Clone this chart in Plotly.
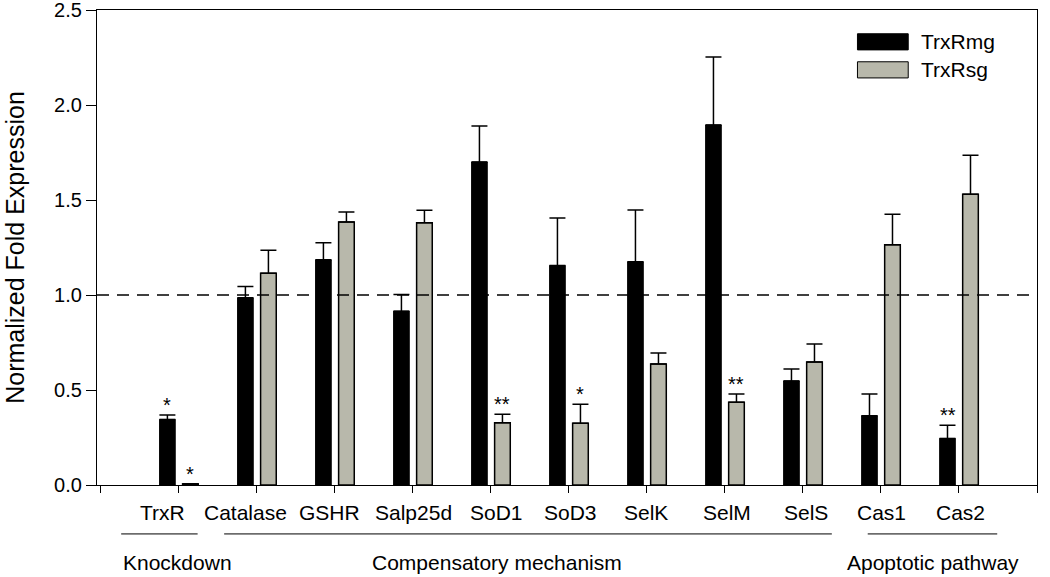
import plotly.graph_objects as go

categories = ["TrxR", "Catalase", "GSHR", "Salp25d", "SoD1", "SoD3", "SelK", "SelM", "SelS", "Cas1", "Cas2"]
positions = list(range(1, len(categories) + 1))

mg_values = [0.345, 0.985, 1.185, 0.915, 1.70, 1.155, 1.175, 1.895, 0.548, 0.365, 0.245]
mg_errors = [0.023, 0.060, 0.090, 0.088, 0.190, 0.250, 0.272, 0.358, 0.062, 0.114, 0.070]
sg_values = [0.006, 1.115, 1.384, 1.380, 0.328, 0.325, 0.637, 0.435, 0.647, 1.265, 1.530]
sg_errors = [0.000, 0.120, 0.053, 0.066, 0.045, 0.100, 0.058, 0.044, 0.095, 0.160, 0.205]

mg_stars = ["*", "", "", "", "", "", "", "", "", "", "**"]
sg_stars = ["*", "", "", "", "**", "*", "", "**", "", "", ""]

# label pixel shifts relative to the category tick (as in the original layout)
label_shift = [-16, -11, -5, 1, 6, 2, -1, 2, 3, 1, 2]

# group name, bracket start, bracket end, label centre (in category units)
groups = [("Knockdown", 0.26, 1.24, 0.98),
          ("Compensatory mechanism", 1.58, 9.37, 5.08),
          ("Apoptotic pathway", 9.83, 11.49, 10.67)]

series_names = ["TrxRmg", "TrxRsg"]
BLACK = "#000000"
GREY = "#b8b8ab"
FONT = "Arial, Liberation Sans, sans-serif"

fig = go.Figure()
fig.add_trace(go.Bar(
    x=positions, y=mg_values, name=series_names[0],
    marker=dict(color=BLACK, line=dict(color="black", width=1)),
    error_y=dict(type="data", symmetric=False, array=mg_errors, arrayminus=[0] * len(mg_errors),
                 color="black", thickness=1.5, width=8),
))
fig.add_trace(go.Bar(
    x=positions, y=sg_values, name=series_names[1],
    marker=dict(color=GREY, line=dict(color="black", width=1.5)),
    error_y=dict(type="data", symmetric=False, array=sg_errors, arrayminus=[0] * len(sg_errors),
                 color="black", thickness=1.5, width=8),
))

annotations = []
offset = 0.147
for i, p in enumerate(positions):
    if mg_stars[i]:
        annotations.append(dict(x=p - offset, y=mg_values[i] + mg_errors[i], text=mg_stars[i],
                                showarrow=False, yanchor="bottom", yshift=-3,
                                font=dict(family=FONT, size=20, color="black")))
    if sg_stars[i]:
        annotations.append(dict(x=p + offset, y=sg_values[i] + sg_errors[i], text=sg_stars[i],
                                showarrow=False, yanchor="bottom", yshift=-3,
                                font=dict(family=FONT, size=20, color="black")))
    # category labels
    annotations.append(dict(x=p, y=-0.058, xref="x", yref="paper", text=categories[i],
                            showarrow=False, xanchor="center", yanchor="middle", xshift=label_shift[i],
                            font=dict(family=FONT, size=21, color="black")))

shapes = [dict(type="line", xref="paper", yref="y", x0=0, x1=1, y0=1, y1=1,
               line=dict(color="black", width=1.3, dash="12px,8px"), layer="above")]
for name, x0, x1, xc in groups:
    shapes.append(dict(type="line", xref="x", yref="paper", x0=x0, x1=x1, y0=-0.103, y1=-0.103,
                       line=dict(color="black", width=1)))
    annotations.append(dict(x=xc, y=-0.164, xref="x", yref="paper", text=name,
                            showarrow=False, xanchor="center", yanchor="middle",
                            font=dict(family=FONT, size=21, color="black")))

# custom legend
leg = [(series_names[0], BLACK, 0.933), (series_names[1], GREY, 0.874)]
for name, col, yc in leg:
    shapes.append(dict(type="rect", xref="paper", yref="paper", x0=0.809, x1=0.863,
                       y0=yc - 0.017, y1=yc + 0.017, fillcolor=col, line=dict(color="black", width=1)))
    annotations.append(dict(x=0.874, y=yc, xref="paper", yref="paper", text=name, showarrow=False,
                            xanchor="left", yanchor="middle", font=dict(family=FONT, size=21, color="black")))

fig.update_layout(
    width=1050, height=577,
    margin=dict(l=97, r=13, t=10, b=92, autoexpand=False),
    paper_bgcolor="white", plot_bgcolor="white",
    barmode="group", bargap=0.41, bargroupgap=0.32,
    showlegend=False,
    font=dict(family=FONT, size=21, color="black"),
    shapes=shapes, annotations=annotations,
)
fig.update_xaxes(
    range=[-0.05, 12], tickmode="array", tickvals=list(range(0, 13)),
    showticklabels=False, automargin=False,
    ticks="outside", ticklen=7, tickwidth=1.3, tickcolor="black",
    showline=True, linecolor="black", linewidth=1.3, mirror=True,
    showgrid=False, zeroline=False,
)
fig.update_yaxes(
    range=[0, 2.5], tickmode="array", tickvals=[0, 0.5, 1.0, 1.5, 2.0, 2.5],
    ticktext=["0.0", "0.5", "1.0", "1.5", "2.0", "2.5"], ticklabeloverflow="allow", automargin=False,
    ticks="outside", ticklen=10, tickwidth=1.3, tickcolor="black",
    showline=True, linecolor="black", linewidth=1.3, mirror=True,
    showgrid=False, zeroline=False, tickfont=dict(family=FONT, size=20),
    title=dict(text="Normalized Fold Expression", font=dict(family=FONT, size=25), standoff=22),
)

fig.write_html("out.html", config={"displayModeBar": False},
               post_script="document.body.style.margin='0';document.body.style.overflow='hidden';")
